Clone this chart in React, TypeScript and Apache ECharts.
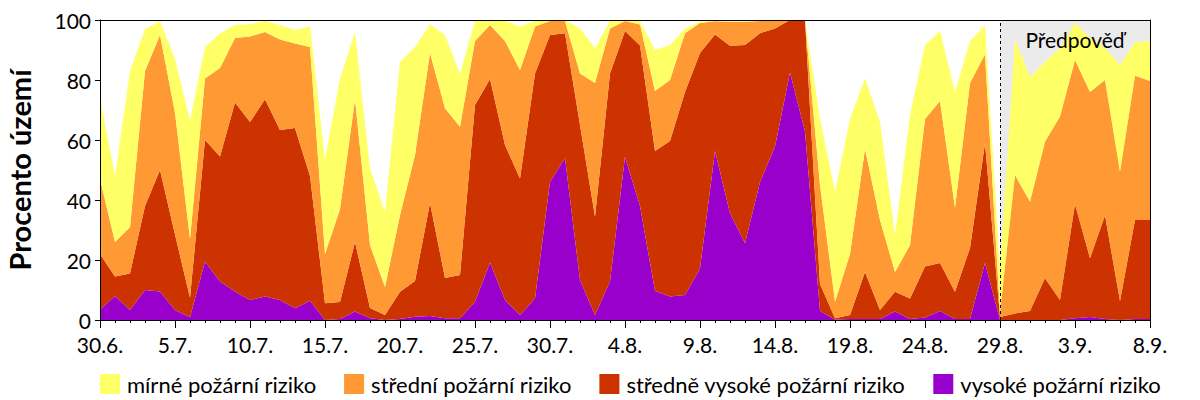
import React, { useEffect, useRef } from "react";
import * as echarts from "echarts";

const dates = [
  "30.6.",
  "1.7.", "2.7.", "3.7.", "4.7.", "5.7.", "6.7.", "7.7.", "8.7.", "9.7.", "10.7.",
  "11.7.", "12.7.", "13.7.", "14.7.", "15.7.", "16.7.", "17.7.", "18.7.", "19.7.", "20.7.",
  "21.7.", "22.7.", "23.7.", "24.7.", "25.7.", "26.7.", "27.7.", "28.7.", "29.7.", "30.7.", "31.7.",
  "1.8.", "2.8.", "3.8.", "4.8.", "5.8.", "6.8.", "7.8.", "8.8.", "9.8.", "10.8.",
  "11.8.", "12.8.", "13.8.", "14.8.", "15.8.", "16.8.", "17.8.", "18.8.", "19.8.", "20.8.",
  "21.8.", "22.8.", "23.8.", "24.8.", "25.8.", "26.8.", "27.8.", "28.8.", "29.8.", "30.8.", "31.8.",
  "1.9.", "2.9.", "3.9.", "4.9.", "5.9.", "6.9.", "7.9.", "8.9.",
];

// percentage of territory per risk level (stacked from bottom: vysoké, středně vysoké, střední, mírné)
const vysoke = [
  3.5, 8, 3.3, 10, 9.5, 3.3, 0.9, 19.5, 12.8, 9.5,
  6.7, 7.8, 6.7, 3.9, 6.4, 0, 0.3, 2.8, 0.6, 0,
  0.3, 1.1, 1.3, 0.6, 0.6, 6.1, 19.2, 6.7, 1.7, 7.2,
  46, 54, 13.3, 1.7, 12.8, 54.4, 38, 9.7, 7.8, 8.3,
  17.2, 56.3, 35.6, 25.6, 46, 57.8, 82.5, 62.8, 3, 0.2,
  0.3, 0.3, 0.3, 2.8, 0.3, 0.8, 3, 0.3, 0.3, 19,
  0, 0, 0, 0, 0, 0.6, 1, 0.3, 0, 0.3, 0.3,
];
const stredneVysoke = [
  18.5, 6.5, 12.2, 28, 40.5, 25.2, 6.5, 40.5, 41.7, 63,
  59.3, 65.8, 56.6, 60.1, 41.6, 5.6, 5.7, 23.2, 3.4, 1.7,
  9.1, 11.9, 37.7, 13.4, 14.4, 65.6, 61.1, 51.6, 45.5, 75,
  49, 41.6, 51.7, 32.7, 69.4, 41.9, 53.5, 46.6, 51.9, 67.7,
  71.8, 38.9, 55.8, 66.1, 49.6, 39.4, 17.5, 37.2, 9, 0.4,
  1.4, 15.7, 3, 6.6, 6.9, 17, 16, 9.1, 23.7, 40,
  1, 2.2, 3, 13.9, 6.7, 38, 19.6, 34.5, 6.3, 33, 33,
];
const stredni = [
  25, 11.5, 15.5, 45, 45, 40.5, 19.6, 20.5, 29.5, 21.5,
  28.5, 22.4, 30.2, 28.2, 43, 16.4, 31, 47.5, 21, 9.3,
  25.6, 42, 50, 56.6, 49.4, 21.3, 18, 34.7, 36.1, 15.6,
  4.7, 4.1, 17.2, 44.6, 15, 3.4, 7, 20, 20.3, 19.6,
  10, 4.4, 8, 7.7, 4.1, 2.8, 0, 0, 33, 5.5,
  20.3, 41, 30, 6.6, 17.8, 49.2, 54, 28, 55, 29.6,
  1.5, 46.1, 36.4, 45.5, 61.1, 48.1, 55.4, 45.2, 43.1, 48.1, 46.4,
];
const mirne = [
  27, 22, 52, 14, 4.6, 18, 39.5, 10.5, 11.5, 4.3,
  4.1, 3.7, 4.8, 4.5, 6.8, 31.5, 43.5, 22.5, 25.5, 25,
  51, 36, 9.6, 24.4, 17.6, 6.7, 1.7, 6.7, 14.5, 1.9,
  0.3, 0.3, 15, 11.6, 2.5, 0.3, 1, 13.7, 11.7, 1.6,
  0.4, 0.4, 0.6, 0.6, 0.3, 0, 0, 0, 22, 36.7,
  45, 23.6, 32.7, 12.3, 43.3, 24.7, 23.4, 38.6, 13.8, 9.7,
  13.5, 45.4, 41.6, 26.6, 22.8, 12.2, 17.9, 10.6, 35.6, 11.2, 13.3,
];

const names = [
  "mírné požární riziko",
  "střední požární riziko",
  "středně vysoké požární riziko",
  "vysoké požární riziko",
];
const colors = ["#ffff66", "#ff9933", "#cc3300", "#9900cc"];
const forecastStart = "29.8.";
const forecastEnd = "8.9.";
const forecastLabel = "Předpověď";
const yAxisName = "Procento území";

const FONT = "Lato";

export default function App() {
  const ref = useRef<HTMLDivElement>(null);
  useEffect(() => {
    document.body.style.margin = "0";
    const chart = echarts.init(ref.current!, undefined, { renderer: "svg" });
    const layers = [
      { name: names[3], data: vysoke, color: colors[3] },
      { name: names[2], data: stredneVysoke, color: colors[2] },
      { name: names[1], data: stredni, color: colors[1] },
      { name: names[0], data: mirne, color: colors[0] },
    ];
    chart.setOption({
      animation: false,
      textStyle: { fontFamily: FONT, color: "#000" },
      grid: { left: 100, right: 50, top: 20, bottom: 80, outerBoundsMode: "none", containLabel: false },
      legend: {
        data: names,
        left: 100,
        top: 373,
        padding: 0,
        icon: "rect",
        itemWidth: 20,
        itemHeight: 20,
        itemGap: 28,
        textStyle: { fontFamily: FONT, fontSize: 22, lineHeight: 22, color: "#000", padding: [0, 0, 0, 2] },
      },
      xAxis: [
        {
          type: "category",
          data: dates,
          boundaryGap: false,
          position: "bottom",
          z: 5,
          axisLine: { lineStyle: { color: "#000", width: 1 } },
          axisTick: { interval: 0, length: 3, lineStyle: { color: "#000" } },
          axisLabel: { show: false },
          splitLine: { show: false },
        },
        {
          type: "category",
          data: dates,
          boundaryGap: false,
          position: "bottom",
          z: 5,
          axisLine: { lineStyle: { color: "#000", width: 1 } },
          axisTick: { interval: 4, length: 8, lineStyle: { color: "#000" } },
          axisLabel: {
            interval: 4,
            fontSize: 21,
            fontFamily: FONT,
            color: "#000",
            margin: 14,
          },
          splitLine: { show: false },
        },
        {
          type: "category",
          data: dates,
          boundaryGap: false,
          position: "top",
          z: 5,
          axisLine: { lineStyle: { color: "#000", width: 1 } },
          axisTick: { show: false },
          axisLabel: { show: false },
          splitLine: { show: false },
        },
      ],
      yAxis: [
        {
          type: "value",
          min: 0,
          max: 100,
          interval: 20,
          z: 5,
          name: yAxisName,
          nameLocation: "middle",
          nameGap: 66,
          nameTextStyle: { fontFamily: FONT, fontSize: 29, fontWeight: "bold", color: "#000" },
          axisLine: { show: true, lineStyle: { color: "#000", width: 1 } },
          axisTick: { show: true, length: 5, lineStyle: { color: "#000" } },
          axisLabel: { fontSize: 21, fontFamily: FONT, color: "#000", margin: 9 },
          splitLine: { show: false },
        },
        {
          type: "value",
          min: 0,
          max: 100,
          interval: 20,
          position: "right",
          z: 5,
          axisLine: { show: true, lineStyle: { color: "#000", width: 1 } },
          axisTick: { show: false },
          axisLabel: { show: false },
          splitLine: { show: false },
        },
      ],
      series: [
        {
          name: "__bg",
          type: "line",
          data: [],
          z: 0,
          silent: true,
          markArea: {
            silent: true,
            z: 0,
            itemStyle: { color: "#ebebeb" },
            label: { show: false },
            data: [[{ xAxis: forecastStart }, { xAxis: forecastEnd }]],
          },
        },
        ...layers.map((l) => ({
          name: l.name,
          type: "line",
          stack: "total",
          data: l.data,
          z: 2,
          symbol: "none",
          showSymbol: false,
          lineStyle: { width: 0 },
          itemStyle: { color: l.color },
          areaStyle: { color: l.color, opacity: 1 },
        })),
        {
          name: "__fg",
          type: "line",
          data: [],
          z: 10,
          silent: true,
          markArea: {
            silent: true,
            z: 10,
            itemStyle: { color: "transparent" },
            label: {
              show: true,
              position: "insideTop",
              distance: 9,
              fontSize: 21,
              fontFamily: FONT,
              color: "#000",
            },
            data: [[{ name: forecastLabel, xAxis: forecastStart }, { xAxis: forecastEnd }]],
          },
          markLine: {
            silent: true,
            z: 10,
            symbol: ["none", "none"],
            label: { show: false },
            lineStyle: { color: "#000", type: [3, 3], width: 1 },
            data: [{ xAxis: forecastStart }],
          },
        },
      ],
    });
    return () => chart.dispose();
  }, []);
  return <div ref={ref} style={{ width: 1200, height: 400 }} />;
}
